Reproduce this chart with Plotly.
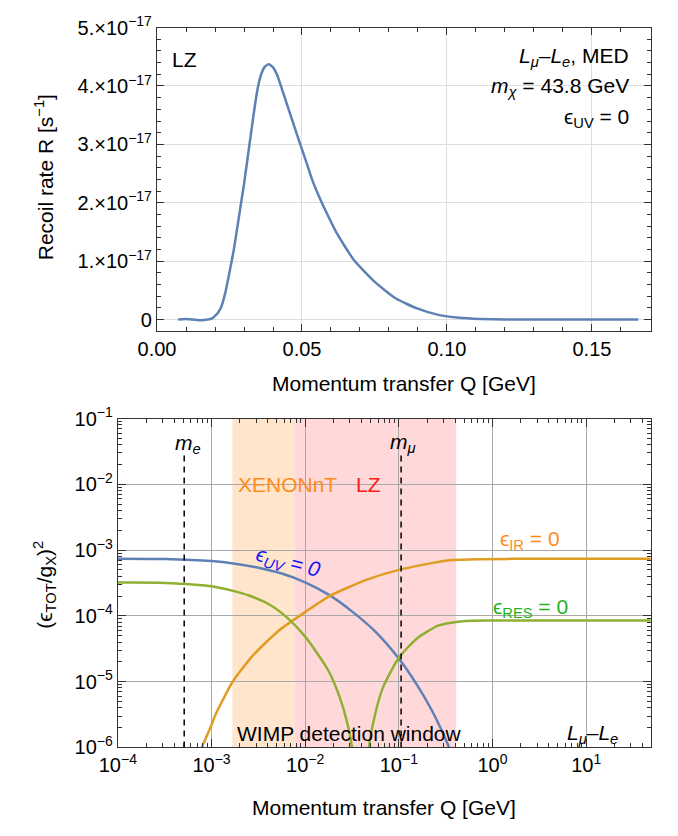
import plotly.graph_objects as go

# ---------------- Top panel data (recoil rate) ----------------
q_top = [0.0073, 0.0098, 0.0125, 0.0150, 0.0175, 0.0190, 0.0202, 0.0212, 0.0221, 0.0236,
         0.0250, 0.0265, 0.0286, 0.0300, 0.0315, 0.0330, 0.0345, 0.0358, 0.0372, 0.0385,
         0.0400, 0.0415, 0.0430, 0.0450, 0.0470, 0.0490, 0.0510, 0.0534, 0.0555, 0.0577,
         0.0621, 0.0679, 0.0752, 0.0824, 0.0897, 0.0970, 0.1042, 0.1115, 0.1200, 0.1400, 0.1660]
rate_top = [0.0, 0.01e-17, 0.0, -0.01e-17, 0.0, 0.02e-17, 0.07e-17, 0.13e-17, 0.21e-17, 0.47e-17,
            0.81e-17, 1.20e-17, 1.87e-17, 2.32e-17, 2.86e-17, 3.40e-17, 3.90e-17, 4.18e-17, 4.33e-17, 4.37e-17,
            4.32e-17, 4.18e-17, 3.96e-17, 3.66e-17, 3.36e-17, 3.06e-17, 2.77e-17, 2.41e-17, 2.15e-17, 1.91e-17,
            1.47e-17, 1.02e-17, 0.64e-17, 0.36e-17, 0.19e-17, 0.08e-17, 0.03e-17, 0.01e-17, 0.0, 0.0, 0.0]
top_xticks = [0.0, 0.05, 0.10, 0.15]
top_xticktext = ["0.00", "0.05", "0.10", "0.15"]
top_yticks = [0.0, 1e-17, 2e-17, 3e-17, 4e-17, 5e-17]
top_yticktext = ["0", "1.×10<sup>−17</sup>", "2.×10<sup>−17</sup>", "3.×10<sup>−17</sup>",
                 "4.×10<sup>−17</sup>", "5.×10<sup>−17</sup>"]

# ---------------- Bottom panel data ----------------
q_uv = [1e-4, 3.16e-4, 1e-3, 1.78e-3, 3.16e-3, 5.62e-3, 1e-2, 1.78e-2, 3.16e-2, 5.62e-2,
        0.1, 0.158, 0.224, 0.282, 0.347, 0.37]
eps_uv = [7.4e-4, 7.3e-4, 6.8e-4, 6.2e-4, 5.4e-4, 4.4e-4, 3.24e-4, 2.1e-4, 1.17e-4, 5.75e-5,
          2.24e-5, 8.7e-6, 3.7e-6, 1.9e-6, 9.5e-7, 6.0e-7]

q_ir = [7.2e-4, 7.9e-4, 1.0e-3, 1.12e-3, 1.7e-3, 2.82e-3, 5.25e-3, 9.8e-3, 1.82e-2, 4.57e-2, 0.1, 0.316, 0.72, 3.16, 49.0]
eps_ir = [6.0e-7, 1.0e-6, 2.2e-6, 3.3e-6, 1.02e-5, 2.57e-5, 6.0e-5, 1.12e-4, 2.0e-4, 3.55e-4, 5.0e-4, 6.9e-4, 7.25e-4, 7.4e-4, 7.4e-4]

q_res_lo = [1e-4, 3.16e-4, 1e-3, 1.7e-3, 2.51e-3, 4.27e-3, 6.46e-3, 9.8e-3, 1.32e-2, 1.78e-2, 2.34e-2, 2.82e-2, 3.16e-2, 3.31e-2]
eps_res_lo = [3.2e-4, 3.17e-4, 2.82e-4, 2.4e-4, 2.04e-4, 1.45e-4, 9.3e-5, 5.0e-5, 2.8e-5, 1.45e-5, 5.75e-6, 2.34e-6, 1.0e-6, 5.0e-7]

q_res_hi = [4.68e-2, 4.79e-2, 5.62e-2, 6.76e-2, 0.1, 0.155, 0.263, 0.479, 1.0, 49.0]
eps_res_hi = [5.0e-7, 1.0e-6, 3.3e-6, 8.1e-6, 2.3e-5, 4.5e-5, 7.1e-5, 8.3e-5, 8.5e-5, 8.5e-5]

xenon_window = [1.67e-3, 7.7e-3]
lz_window = [7.7e-3, 0.41]
m_e = 0.000511
m_mu = 0.1057
bot_xticks = [1e-4, 1e-3, 1e-2, 1e-1, 1e0, 1e1]
bot_xticktext = ["10<sup>−4</sup>", "10<sup>−3</sup>", "10<sup>−2</sup>", "10<sup>−1</sup>", "10<sup>0</sup>", "10<sup>1</sup>"]
bot_yticks = [1e-6, 1e-5, 1e-4, 1e-3, 1e-2, 1e-1]
bot_yticktext = ["10<sup>−6</sup>", "10<sup>−5</sup>", "10<sup>−4</sup>", "10<sup>−3</sup>", "10<sup>−2</sup>", "10<sup>−1</sup>"]

BLUE = "#5E81B5"
ORANGE = "#E19C24"
GREEN = "#8FB032"
FONT = "Liberation Sans, Arial, DejaVu Sans, sans-serif"
FS = 21
TFS = 20

fig = go.Figure()

# shaded windows (bottom)
fig.add_shape(type="rect", xref="x2", yref="y2 domain", x0=xenon_window[0], x1=xenon_window[1], y0=0, y1=1,
              fillcolor="#FFE5CC", line_width=0, layer="below")
fig.add_shape(type="rect", xref="x2", yref="y2 domain", x0=lz_window[0], x1=lz_window[1], y0=0, y1=1,
              fillcolor="#FFD8DA", line_width=0, layer="below")

# top curve
fig.add_trace(go.Scatter(x=q_top, y=rate_top, mode="lines",
                         line=dict(color=BLUE, width=2.5, shape="spline", smoothing=0.5),
                         xaxis="x", yaxis="y", showlegend=False))

# bottom curves
for xs, ys, col in ((q_uv, eps_uv, BLUE), (q_ir, eps_ir, ORANGE),
                    (q_res_lo, eps_res_lo, GREEN), (q_res_hi, eps_res_hi, GREEN)):
    fig.add_trace(go.Scatter(x=xs, y=ys, mode="lines",
                             line=dict(color=col, width=2.5, shape="spline", smoothing=0.6),
                             xaxis="x2", yaxis="y2", showlegend=False))

# dashed mass lines
for m in (m_e, m_mu):
    fig.add_trace(go.Scatter(x=[m, m], y=[1e-6, 2.95e-2], mode="lines",
                             line=dict(color="black", width=1.5, dash="6px,5px"),
                             xaxis="x2", yaxis="y2", showlegend=False, hoverinfo="skip"))

frame = dict(showline=True, linecolor="#333", linewidth=1.2, mirror="allticks", ticks="inside",
             zeroline=False, tickfont=dict(size=TFS, color="black", family=FONT))

fig.update_layout(
    width=678, height=836, margin=dict(l=0, r=0, t=0, b=0),
    paper_bgcolor="white", plot_bgcolor="white",
    font=dict(family=FONT, size=FS, color="black"),
    xaxis=dict(domain=[142/678, 650/678], anchor="y", range=[0, 0.1703],
               tickvals=top_xticks, ticktext=top_xticktext, ticklen=7, tickcolor="#333",
               showgrid=True, gridcolor="#DDDDDD", gridwidth=1,
               minor=dict(ticks="inside", ticklen=4, dtick=0.01, tickcolor="#333", showgrid=False),
               **frame),
    yaxis=dict(domain=[1-327/836, 1-14/836], anchor="x", range=[-0.2e-17, 5e-17],
               tickvals=top_yticks, ticktext=top_yticktext, ticklen=7, tickcolor="#333",
               showgrid=True, gridcolor="#DDDDDD", gridwidth=1,
               minor=dict(ticks="inside", ticklen=4, dtick=0.2e-17, tickcolor="#333", showgrid=False),
               **frame),
    xaxis2=dict(domain=[101.7/678, 650/678], anchor="y2", type="log", range=[-4, 1.69],
                tickvals=bot_xticks, ticktext=bot_xticktext, ticklen=8, tickcolor="#333",
                showgrid=True, gridcolor="#A8A8A8", gridwidth=1,
                minor=dict(ticks="inside", ticklen=4, dtick="D1", tickcolor="#333", showgrid=False),
                **frame),
    yaxis2=dict(domain=[1-756/836, 1-417/836], anchor="x2", type="log", range=[-6, -1],
                tickvals=bot_yticks, ticktext=bot_yticktext, ticklen=8, tickcolor="#333",
                showgrid=True, gridcolor="#A8A8A8", gridwidth=1,
                minor=dict(ticks="inside", ticklen=4, dtick="D1", tickcolor="#333", showgrid=False),
                **frame),
)

def A(text, x, y, xref="paper", yref="paper", color="black", angle=0, xanchor="center"):
    return dict(text=text, x=x, y=y, xref=xref, yref=yref, showarrow=False, textangle=angle,
                font=dict(size=FS, color=color, family=FONT), xanchor=xanchor, yanchor="middle")

ann = [
    # axis titles
    A("Recoil rate R [s<sup>−1</sup>]", 26/678, 1-168/836, angle=-90),
    A("Momentum transfer Q [GeV]", 396/678, 1-381/836),
    A("(ϵ<sub>TOT</sub>/g<sub>X</sub>)<sup>2</sup>", 26/678, 1-588/836, angle=-90),
    A("Momentum transfer Q [GeV]", 376/678, 1-818/836),
    # top panel labels
    A("LZ", 0.0095, 4.45e-17, "x", "y"),
    A("<i>L</i><sub><i>μ</i></sub>–<i>L</i><sub><i>e</i></sub>, MED", 0.1635, 4.5e-17, "x", "y", xanchor="right"),
    A("<i>m</i><sub><i>χ</i></sub> = 43.8 GeV", 0.1635, 3.98e-17, "x", "y", xanchor="right"),
    A("ϵ<sub>UV</sub> = 0", 0.1635, 3.45e-17, "x", "y", xanchor="right"),
    # bottom panel labels (log axes -> exponent coordinates)
    A("<i>m</i><sub><i>e</i></sub>", -3.25, -1.38, "x2", "y2"),
    A("<i>m</i><sub><i>μ</i></sub>", -0.96, -1.37, "x2", "y2"),
    A("XENONnT", -2.19, -2.0, "x2", "y2", color="#FF8C1A"),
    A("LZ", -1.32, -2.0, "x2", "y2", color="#FF1A1A"),
    A("<i>ϵ</i><sub><i>UV</i></sub><i> = 0</i>", -2.18, -3.2, "x2", "y2", color="#1515F0", angle=15),
    A("ϵ<sub>IR</sub> = 0", 0.40, -2.85, "x2", "y2", color="#FF8C1A"),
    A("ϵ<sub>RES</sub> = 0", 0.41, -3.88, "x2", "y2", color="#1FB31F"),
    A("WIMP detection window", -1.53, -5.79, "x2", "y2"),
    A("<i>L</i><sub><i>μ</i></sub>–<i>L</i><sub><i>e</i></sub>", 1.07, -5.79, "x2", "y2"),
]
fig.update_layout(annotations=ann)

fig.write_html("out.html")
